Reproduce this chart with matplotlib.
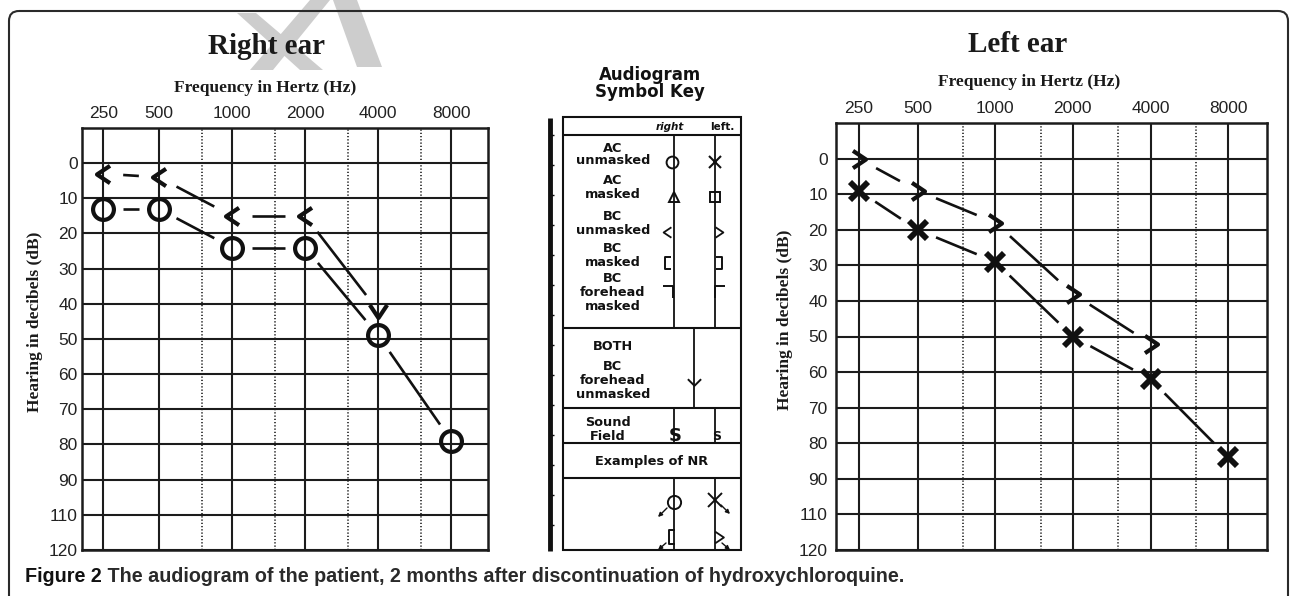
import numpy as np
import matplotlib
matplotlib.use("Agg")
import matplotlib.pyplot as plt
from matplotlib.path import Path
from matplotlib.patches import FancyBboxPatch, Polygon, Rectangle, Wedge

# ---------------- data ----------------
freq_ticks = [250, 500, 1000, 2000, 4000, 8000]
half_octaves = [750, 1500, 3000, 6000]
db_ticks = [0, 10, 20, 30, 40, 50, 60, 70, 80, 90, 110, 120]

right_ac_freq = [250, 500, 1000, 2000, 4000, 8000]
right_ac_db = [13, 13, 24, 24, 49, 79]
right_bc_freq = [250, 500, 1000, 2000, 4000]
right_bc_db = [3, 4, 15, 15, 42]
right_bc_sym = ["<", "<", "<", "<", "v"]

left_ac_freq = [250, 500, 1000, 2000, 4000, 8000]
left_ac_db = [9, 20, 29, 50, 62, 84]
left_bc_freq = [250, 500, 1000, 2000, 4000]
left_bc_db = [0, 9, 18, 38, 52]

titles = ["Right ear", "Left ear"]
xlabel_text = "Frequency in Hertz (Hz)"
ylabel_text = "Hearing in decibels (dB)"
caption_bold = "Figure 2"
caption_rest = " The audiogram of the patient, 2 months after discontinuation of hydroxychloroquine."

# ---------------- scales ----------------
SHIFT = 0.24


def x_fwd(f):
    f = np.clip(np.asarray(f, float), 1e-6, None)
    lf = np.log2(f / 1000.0)
    return lf + np.interp(lf, [-2.0, -1.0], [SHIFT, 0.0])


def x_inv(p):
    p = np.asarray(p, float)
    lf = np.where(p >= -1, p,
                  np.where(p <= -2 + SHIFT, p - SHIFT,
                           -2 + (p - (-2 + SHIFT)) / (1 - SHIFT)))
    return 1000.0 * 2 ** lf


def y_fwd(v):
    v = np.asarray(v, float)
    return np.where(v <= 90, v, np.where(v >= 110, v - 10, 90 + (v - 90) / 2))


def y_inv(p):
    p = np.asarray(p, float)
    return np.where(p <= 90, p, np.where(p >= 100, p + 10, 90 + (p - 90) * 2))


# ---------------- markers ----------------
def open_path(verts):
    codes = [Path.MOVETO] + [Path.LINETO] * (len(verts) - 1)
    return Path(verts, codes)


CHEV_L = open_path([(0.75, 1), (-0.75, 0), (0.75, -1)])
CHEV_R = open_path([(-0.75, 1), (0.75, 0), (-0.75, -1)])
CHEV_D = open_path([(-1, 0.75), (0, -0.75), (1, 0.75)])
SYM = {"<": CHEV_L, ">": CHEV_R, "v": CHEV_D}

W, H = 1290, 596
fig = plt.figure(figsize=(W / 100, H / 100), dpi=100)
fig.patch.set_facecolor("white")


def rect(x0, y0, x1, y1):
    return [x0 / W, 1 - y1 / H, (x1 - x0) / W, (y1 - y0) / H]


# overlay axes in pixel coordinates
ov = fig.add_axes([0, 0, 1, 1], zorder=0)
ov.set_xlim(0, W)
ov.set_ylim(H, 0)
ov.axis("off")

INK = "#1c1c1c"
TICKFONT = ["Liberation Sans", "DejaVu Sans"]
SERIF = ["Liberation Serif", "DejaVu Serif"]


def make_audiogram(r, ylab_pad):
    ax = fig.add_axes(rect(*r), zorder=2)
    ax.set_facecolor("none")
    ax.set_xscale("function", functions=(x_fwd, x_inv))
    ax.set_yscale("function", functions=(y_fwd, y_inv))
    ax.set_xlim(float(x_inv(-2.05)), float(x_inv(3.5)))
    ax.set_ylim(120, -10)
    ax.set_xticks(freq_ticks)
    ax.set_xticklabels([str(f) for f in freq_ticks])
    ax.set_xticks(half_octaves, minor=True)
    ax.set_yticks(db_ticks)
    ax.set_yticklabels([str(d) for d in db_ticks])
    ax.yaxis.set_minor_locator(matplotlib.ticker.NullLocator())
    ax.tick_params(axis="x", which="both", top=False, bottom=False, labeltop=True,
                   labelbottom=False, length=0, pad=5)
    ax.tick_params(axis="y", which="both", left=False, length=0, pad=ylab_pad)
    for lab in ax.get_xticklabels() + ax.get_yticklabels():
        lab.set_family(TICKFONT)
        lab.set_fontsize(12.5)
        lab.set_color("#222222")
    ax.grid(which="major", axis="both", color=INK, lw=1.5, zorder=1)
    ax.grid(which="minor", axis="x", color="#333333", lw=1.3, ls=(0, (0.7, 1.1)), zorder=1)
    ax.set_axisbelow(True)
    for s in ax.spines.values():
        s.set_color(INK)
        s.set_linewidth(1.8)
    return ax


def gapped(ax, xs, ys, gap_px=20, **kw):
    pts = ax.transData.transform(np.column_stack([xs, ys]))
    inv = ax.transData.inverted()
    for p0, p1 in zip(pts[:-1], pts[1:]):
        d = p1 - p0
        u = d / np.hypot(*d)
        seg = inv.transform(np.vstack([p0 + u * gap_px, p1 - u * gap_px]))
        ax.plot(seg[:, 0], seg[:, 1], color="#111111", lw=1.9,
                solid_capstyle="butt", zorder=3, **kw)


# ---------------- right ear ----------------
axR = make_audiogram((82, 128, 488, 550), 3)
gapped(axR, right_ac_freq, right_ac_db)
gapped(axR, right_bc_freq, right_bc_db)
axR.plot(right_ac_freq, right_ac_db, ls="none", marker="o", ms=15, mew=3.0,
         mfc="none", mec="#111111", zorder=4)
for f, d, s in zip(right_bc_freq, right_bc_db, right_bc_sym):
    axR.plot([f], [d], ls="none", marker=SYM[s], ms=12.5, mew=3.0, mfc="none",
             mec="#111111", zorder=4)

# ---------------- left ear ----------------
axL = make_audiogram((836, 123, 1267, 550), 6)
gapped(axL, left_ac_freq, left_ac_db)
gapped(axL, left_bc_freq, left_bc_db)
axL.plot(left_ac_freq, left_ac_db, ls="none", marker="x", ms=13, mew=4.2,
         mec="#111111", zorder=4)
axL.plot(left_bc_freq, left_bc_db, ls="none", marker=CHEV_R, ms=12.5, mew=3.0,
         mfc="none", mec="#111111", zorder=4)

# ---------------- titles / labels ----------------
ov.text(267, 46, titles[0], ha="center", va="center", fontsize=21,
        fontweight="bold", family=SERIF, color="#1a1a1a")
ov.text(1018, 44, titles[1], ha="center", va="center", fontsize=21,
        fontweight="bold", family=SERIF, color="#1a1a1a")
ov.text(265, 88, xlabel_text, ha="center", va="center", fontsize=12.5,
        fontweight="bold", family=SERIF, color="#1a1a1a")
ov.text(1029, 82, xlabel_text, ha="center", va="center", fontsize=12.5,
        fontweight="bold", family=SERIF, color="#1a1a1a")
ov.text(35, 322, ylabel_text, ha="center", va="center", rotation=90,
        fontsize=12.5, fontweight="bold", family=SERIF, color="#1a1a1a")
ov.text(785, 320, ylabel_text, ha="center", va="center", rotation=90,
        fontsize=12.5, fontweight="bold", family=SERIF, color="#1a1a1a")

# ---------------- watermark ----------------
WM = "#cdcdcd"
for poly in ([(237, 13), (256, 13), (323, 70), (300, 70)],
             [(250, 70), (273, 70), (330, 0), (310, 0)],
             [(333, 0), (357, 0), (382, 67), (357, 67)]):
    ov.add_patch(Polygon(poly, closed=True, fc=WM, ec="none", zorder=0.1))
ov.add_patch(Wedge((414, -8), 27, 200, 340, width=12, fc=WM, ec="none", zorder=0.1))

# ---------------- frame ----------------
ov.add_patch(FancyBboxPatch((9, 11), 1279, 640, boxstyle="round,pad=0,rounding_size=10",
                            fc="none", ec="#2a2a2a", lw=1.5, zorder=0.5))

# ---------------- caption ----------------
CAPFONT = ["Liberation Sans", "DejaVu Sans"]
t1 = ov.text(25, 576, caption_bold, ha="left", va="center", fontsize=14.2,
             fontweight="bold", family=CAPFONT, color="#111111")
ov.annotate(caption_rest, xy=(1, 0), xycoords=t1, ha="left", va="bottom",
            fontsize=14.2, fontweight="bold", family=CAPFONT, color="#2a2a2a")

# ---------------- symbol key ----------------
KF = ["DejaVu Sans"]
KC = "#111111"


def kline(xs, ys, lw=1.3):
    ov.plot(xs, ys, color=KC, lw=lw, solid_capstyle="butt", zorder=2)


def ktext(x, y, s, size=9, **kw):
    ov.text(x, y, s, ha="center", va="center", fontsize=size, fontweight="bold",
            family=KF, color=KC, **kw)


ktext(650, 75, "Audiogram", 12)
ktext(650, 92, "Symbol Key", 12)

# ruler
kline([550, 550], [118, 551], lw=3.5)
for yy in range(135, 545, 30):
    kline([551, 554], [yy, yy], lw=1.0)

# outer box
ov.add_patch(Rectangle((563, 117), 178, 433, fc="none", ec=KC, lw=1.5, zorder=2))
for yy in (135, 328, 408, 443, 478):
    kline([563, 741], [yy, yy], lw=1.5)
kline([674, 674], [135, 328])
kline([715, 715], [135, 328])
kline([694, 694], [328, 408])
kline([674, 674], [408, 443])
kline([715, 715], [408, 443])
kline([674, 674], [478, 550])
kline([715, 715], [478, 550])

ov.text(670, 127, "right", ha="center", va="center", fontsize=7.5, fontweight="bold",
        family=KF, color=KC, style="italic")
ov.text(722, 127, "left.", ha="center", va="center", fontsize=7.5, fontweight="bold",
        family=KF, color=KC)

rows = [("AC", 148), ("unmasked", 161), ("AC", 181), ("masked", 195),
        ("BC", 217), ("unmasked", 231), ("BC", 249), ("masked", 263),
        ("BC", 279), ("forehead", 293), ("masked", 307),
        ("BOTH", 347), ("BC", 367), ("forehead", 381), ("unmasked", 395)]
for s, yy in rows:
    ktext(613, yy, s, 9.3)
ktext(608, 423, "Sound", 9.3)
ktext(608, 436, "Field", 9.3)
ktext(652, 461, "Examples of NR", 9.3)

kw = dict(ls="none", mfc="none", mec=KC, zorder=3)
ov.plot([672], [162], marker="o", ms=8.5, mew=1.4, **kw)
ov.plot([715], [162], marker="x", ms=8, mew=1.5, **kw)
ov.plot([674], [197], marker="^", ms=7.5, mew=1.4, **kw)
ov.plot([715], [197], marker="s", ms=7.5, mew=1.4, **kw)
ov.plot([667], [232], marker=CHEV_L, ms=7.5, mew=1.3, **kw)
ov.plot([719], [232], marker=CHEV_R, ms=7.5, mew=1.3, **kw)
ov.plot([668], [263], marker=open_path([(0.5, 1), (-0.5, 1), (-0.5, -1), (0.5, -1)]),
        ms=8.5, mew=1.4, **kw)
ov.plot([719], [263], marker=open_path([(-0.5, 1), (0.5, 1), (0.5, -1), (-0.5, -1)]),
        ms=8.5, mew=1.4, **kw)
ov.plot([669], [292], marker=open_path([(-1, 1), (0.6, 1), (0.6, -1)]), ms=8.5, mew=1.4, **kw)
ov.plot([719], [292], marker=open_path([(1, 1), (-0.6, 1), (-0.6, -1)]), ms=8.5, mew=1.4, **kw)
ov.plot([694], [382], marker=open_path([(-1, 0.5), (0, -0.5), (1, 0.5)]), ms=9.5, mew=1.4, **kw)
ov.text(675, 436, "S", ha="center", va="center", fontsize=13, fontweight="bold",
        family=KF, color=KC)
ov.text(717, 437, "S", ha="center", va="center", fontsize=9, fontweight="bold",
        family=KF, color=KC)

# NR examples
ov.plot([674], [502], marker="o", ms=9.5, mew=1.4, **kw)
ov.plot([715], [500], marker="x", ms=9.5, mew=1.4, **kw)
ov.plot([672], [537], marker=open_path([(0.5, 1), (-0.5, 1), (-0.5, -1), (0.5, -1)]),
        ms=9.5, mew=1.4, **kw)
ov.plot([719], [537], marker=CHEV_R, ms=8.5, mew=1.3, **kw)
arr = dict(arrowstyle="-|>", lw=1.0, color=KC, mutation_scale=6, shrinkA=0, shrinkB=0)
for (x0, y0), (x1, y1) in (((667, 508), (658, 517)), ((721, 505), (730, 514)),
                           ((666, 543), (658, 550)), ((722, 543), (730, 550))):
    ov.annotate("", xy=(x1, y1), xytext=(x0, y0), arrowprops=arr, zorder=3)

fig.savefig("out.png", dpi=100, facecolor="white")
